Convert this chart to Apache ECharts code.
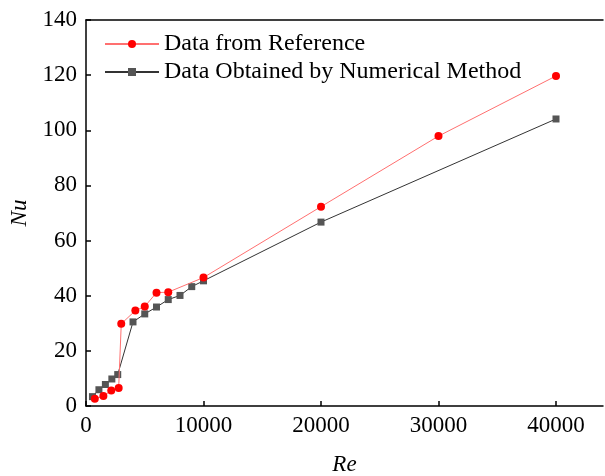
<!DOCTYPE html>
<html>
<head>
<meta charset="utf-8">
<script src="https://cdn.jsdelivr.net/npm/echarts@6/dist/echarts.min.js"></script>
<style>html,body{margin:0;padding:0;background:#fff;}#c{width:605px;height:476px;}</style>
</head>
<body>
<div id="c"></div>
<script>
var refRe = [750, 1480, 2150, 2780, 3000, 4200, 5000, 6000, 7000, 10000, 20000, 30000, 40000];
var refNu = [2.6, 3.6, 5.6, 6.5, 29.8, 34.6, 36.1, 41.1, 41.3, 46.6, 72.3, 97.9, 119.7];
var numRe = [550, 1100, 1650, 2200, 2700, 4000, 5000, 6000, 7000, 8000, 9000, 10000, 20000, 40000];
var numNu = [3.4, 5.9, 7.8, 9.8, 11.4, 30.5, 33.4, 35.9, 38.6, 40.1, 43.3, 45.4, 66.7, 104.1];
var seriesNames = ['Data from Reference', 'Data Obtained by Numerical Method'];

function pairs(xs, ys){ return xs.map(function(x,i){ return [x, ys[i]]; }); }

var font = 'Liberation Serif, Times New Roman, serif';
var fs = 23;
var chart = echarts.init(document.getElementById('c'), null, {renderer:'canvas'});
chart.setOption({
  animation: false,
  backgroundColor: '#fff',
  grid: { left: 86, top: 20, right: 2, bottom: 70, containLabel: false, outerBoundsMode: 'none' },
  legend: {
    orient: 'vertical', left: 104, top: 32, padding: 0, itemWidth: 54, itemHeight: 10, itemGap: 4,
    textStyle: { fontFamily: font, fontSize: 24, color: '#000', lineHeight: 23 },
    data: seriesNames
  },
  xAxis: [{
    type: 'value', min: 0, max: 44000, interval: 10000,
    name: 'Re', nameLocation: 'middle', nameGap: 47,
    nameTextStyle: { fontFamily: font, fontSize: fs, fontStyle: 'italic', color: '#000' },
    axisLine: { show: true, onZero: false, lineStyle: { color: '#000', width: 1.5 } },
    axisTick: { show: true, inside: true, length: 5, lineStyle: { color: '#000', width: 1.5 } },
    axisLabel: { fontFamily: font, fontSize: fs, color: '#000', margin: 8, showMaxLabel: false,
      formatter: function(v){ return String(v); } },
    splitLine: { show: false }
  }, {
    type: 'value', position: 'top', min: 0, max: 44000,
    axisLine: { show: true, onZero: false, lineStyle: { color: '#000', width: 1.5 } },
    axisTick: { show: false }, axisLabel: { show: false }, splitLine: { show: false }
  }],
  yAxis: {
    type: 'value', min: 0, max: 140, interval: 20,
    name: 'Nu', nameLocation: 'middle', nameGap: 49, nameRotate: 90,
    nameTextStyle: { fontFamily: font, fontSize: fs, fontStyle: 'italic', color: '#000' },
    axisLine: { show: true, onZero: false, lineStyle: { color: '#000', width: 1.5 } },
    axisTick: { show: true, inside: true, length: 5, lineStyle: { color: '#000', width: 1.5 } },
    axisLabel: { fontFamily: font, fontSize: fs, color: '#000', margin: 9 },
    splitLine: { show: false }
  },
  series: [
    {
      name: seriesNames[0], type: 'line', data: pairs(refRe, refNu),
      symbol: 'circle', symbolSize: 8, showAllSymbol: true,
      lineStyle: { color: '#ff7070', width: 1 },
      itemStyle: { color: '#ff0000', borderWidth: 0 },
      z: 3
    },
    {
      name: seriesNames[1], type: 'line', data: pairs(numRe, numNu),
      symbol: 'rect', symbolSize: 7, showAllSymbol: true,
      lineStyle: { color: '#333333', width: 1 },
      itemStyle: { color: '#555555', borderWidth: 0 },
      z: 2
    }
  ]
});
</script>
</body>
</html>
